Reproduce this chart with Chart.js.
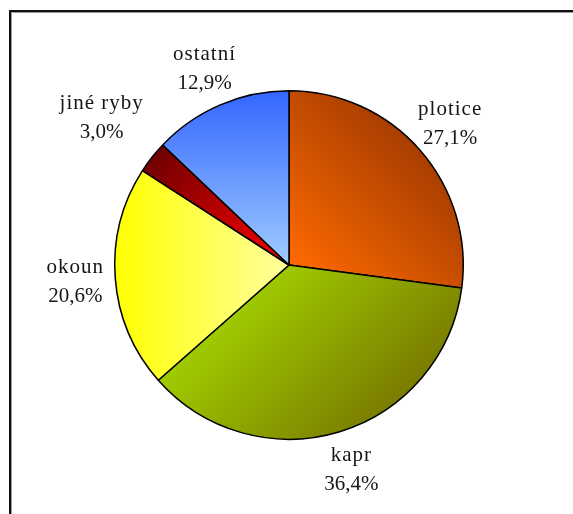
<!DOCTYPE html>
<html>
<head>
<meta charset="utf-8">
<script src="https://cdn.jsdelivr.net/npm/chart.js@4/dist/chart.umd.min.js"></script>
<style>
  html, body { margin: 0; padding: 0; background: #fff; }
  #wrap { position: relative; width: 573px; height: 514px; }
  #frame { position: absolute; left: 9px; top: 10px; right: 0; bottom: 0;
           border-left: 2px solid #111; border-top: 2px solid #111;
           box-shadow: inset 1px 1px 0 #999; }
  canvas { position: absolute; left: 0; top: 0; }
</style>
</head>
<body>
<div id="wrap">
  <div id="frame"></div>
  <canvas id="pieChart" width="573" height="514"></canvas>
</div>
<script>
var categories = ['plotice', 'kapr', 'okoun', 'jiné ryby', 'ostatní'];
var shares = [27.1, 36.4, 20.6, 3.0, 12.9];

// gradient per slice: [from colour, to colour, direction dx, dy]
var fills = [
    ['#ff6a00', '#a83e00', 1, -1],
    ['#a0cc00', '#7a7c00', 1, 1],
    ['#ffff00', '#ffffa0', 1, 0],
    ['#700000', '#ff0000', 1, 1],
    ['#3366ff', '#a0ccff', 0, 1]
];

// gradient stretched over the slice's own extent along its direction
function sliceFill(context) {
    var chart = context.chart;
    var area = chart.chartArea;
    var i = context.dataIndex;
    var f = fills[i];
    if (!area) return f[0];
    var cx = (area.left + area.right) / 2;
    var cy = (area.top + area.bottom) / 2;
    var r = Math.min(area.right - area.left, area.bottom - area.top) / 2 - 1;
    var total = shares.reduce(function(a, b) { return a + b; }, 0);
    var before = 0;
    for (var k = 0; k < i; k++) before += shares[k];
    var a0 = -Math.PI / 2 + before / total * 2 * Math.PI;
    var a1 = a0 + shares[i] / total * 2 * Math.PI;
    var len = Math.sqrt(f[2] * f[2] + f[3] * f[3]);
    var ux = f[2] / len, uy = f[3] / len;
    var lo = 0, hi = 0;
    for (var s = 0; s <= 40; s++) {
        var a = a0 + (a1 - a0) * s / 40;
        var pr = (Math.cos(a) * ux + Math.sin(a) * uy) * r;
        lo = Math.min(lo, pr);
        hi = Math.max(hi, pr);
    }
    var g = chart.ctx.createLinearGradient(cx + ux * lo, cy + uy * lo, cx + ux * hi, cy + uy * hi);
    g.addColorStop(0, f[0]);
    g.addColorStop(1, f[1]);
    return g;
}

var outsideLabels = {
    id: 'outsideLabels',
    afterDatasetsDraw: function(chart) {
        var ctx = chart.ctx;
        var meta = chart.getDatasetMeta(0);
        ctx.save();
        ctx.font = '21px "Liberation Serif", "Times New Roman", serif';
        ctx.fillStyle = '#151515';
        ctx.textAlign = 'center';
        ctx.textBaseline = 'middle';
        meta.data.forEach(function(arc, i) {
            var p = arc.getProps(['x', 'y', 'startAngle', 'endAngle', 'outerRadius'], true);
            var mid = (p.startAngle + p.endAngle) / 2;
            var d = p.outerRadius + (shares[i] < 5 ? 64 : 40);
            var x = p.x + Math.cos(mid) * d;
            var y = p.y + Math.sin(mid) * d;
            var pct = shares[i].toFixed(1).replace('.', ',') + '%';
            ctx.letterSpacing = '1px';
            ctx.fillText(categories[i], x, y - 14);
            ctx.letterSpacing = '0px';
            ctx.fillText(pct, x, y + 15);
        });
        ctx.restore();
    }
};

document.addEventListener('DOMContentLoaded', function() {
    var ctx = document.getElementById('pieChart').getContext('2d');
    new Chart(ctx, {
        type: 'pie',
        data: {
            labels: categories,
            datasets: [{
                data: shares,
                backgroundColor: sliceFill,
                borderColor: '#000',
                borderWidth: 1.5
            }]
        },
        options: {
            responsive: false,
            animation: false,
            layout: { padding: { left: 114, right: 109, top: 90, bottom: 74 } },
            plugins: {
                legend: { display: false },
                tooltip: { enabled: false }
            }
        },
        plugins: [outsideLabels]
    });
});
</script>
</body>
</html>
